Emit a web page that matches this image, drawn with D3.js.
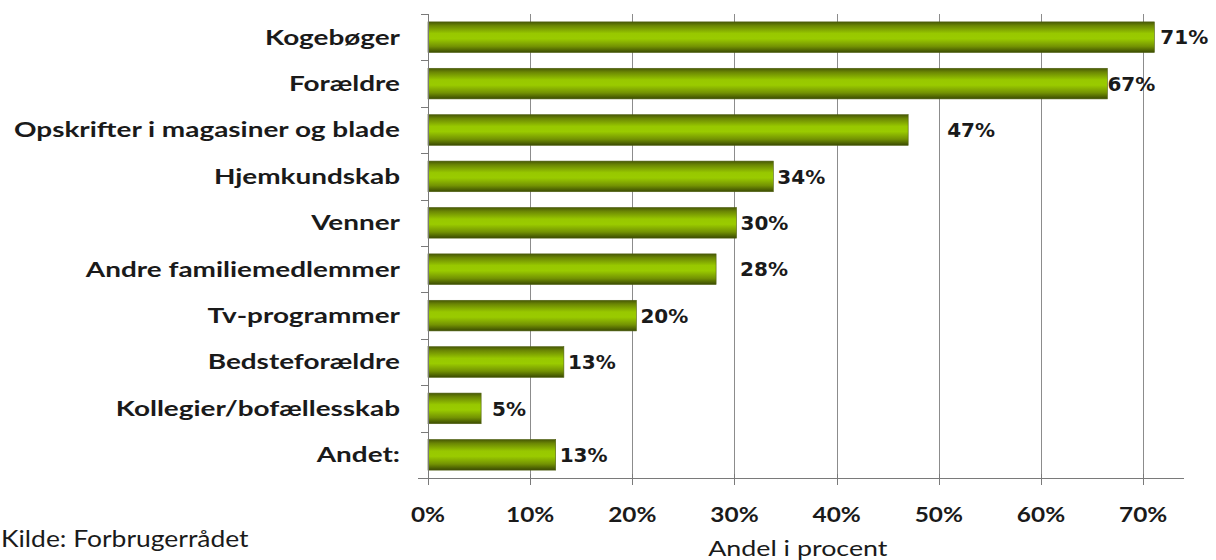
<!DOCTYPE html>
<html>
<head>
<meta charset="utf-8">
<script src="https://cdn.jsdelivr.net/npm/d3@7"></script>
<style>
  body { margin: 0; background: #fff; }
  svg { display: block; }
</style>
</head>
<body>
<div id="chart"></div>
<script>
// data
const categories = ["Kogebøger", "Forældre", "Opskrifter i magasiner og blade", "Hjemkundskab", "Venner",
  "Andre familiemedlemmer", "Tv-programmer", "Bedsteforældre", "Kollegier/bofællesskab", "Andet:"];
const shares = [0.711, 0.665, 0.470, 0.338, 0.302, 0.282, 0.204, 0.133, 0.052, 0.125];
const shareLabels = ["71%", "67%", "47%", "34%", "30%", "28%", "20%", "13%", "5%", "13%"];
const tickValues = [0, 0.1, 0.2, 0.3, 0.4, 0.5, 0.6, 0.7];
const tickLabels = ["0%", "10%", "20%", "30%", "40%", "50%", "60%", "70%"];

// excel put the value labels at uneven distances from the bar ends
const labelGap = [6, 0, 39, 4, 4, 24, 4, 4, 11, 4];

const W = 1216, H = 560;
const margin = { top: 14, right: 32, bottom: 82, left: 428 },
  width = W - margin.left - margin.right,
  height = H - margin.top - margin.bottom;

const calibri = "Lato, 'Open Sans', sans-serif";
const stretch = 1.22;

const svg = d3.select("#chart")
  .append("svg")
  .attr("width", W)
  .attr("height", H);

const defs = svg.append("defs");
const grad = defs.append("linearGradient")
  .attr("id", "barGrad")
  .attr("x1", 0).attr("y1", 0).attr("x2", 0).attr("y2", 1);
[[0, "#475805"], [0.12, "#6a8504"], [0.38, "#98c800"], [0.55, "#9acb00"], [0.8, "#739203"], [1, "#3a4a02"]]
  .forEach(function (s) {
    grad.append("stop").attr("offset", s[0]).attr("stop-color", s[1]);
  });

const g = svg.append("g")
  .attr("transform", `translate(${margin.left},${margin.top})`);

const x = d3.scaleLinear()
  .domain([0, 0.74])
  .range([0, width]);

const y = d3.scaleBand()
  .domain(categories)
  .range([0, height])
  .paddingInner(0.34)
  .paddingOuter(0.17);

// vertical gridlines
g.append("g")
  .selectAll("line")
  .data(tickValues.slice(1))
  .join("line")
  .attr("x1", d => Math.round(x(d)) + 0.5)
  .attr("x2", d => Math.round(x(d)) + 0.5)
  .attr("y1", 0)
  .attr("y2", height)
  .attr("stroke", "#8c8c8c")
  .attr("stroke-width", 1);

// bars
g.append("g")
  .selectAll("rect")
  .data(categories)
  .join("rect")
  .attr("x", 0)
  .attr("y", d => y(d))
  .attr("width", (d, i) => x(shares[i]))
  .attr("height", y.bandwidth())
  .attr("fill", "url(#barGrad)")
  .attr("stroke", "#4f5f10")
  .attr("stroke-width", 0.6);

// y axis: line + ticks at band boundaries
const yAxis = g.append("g");
yAxis.append("line")
  .attr("x1", 0.5).attr("x2", 0.5)
  .attr("y1", 0).attr("y2", height)
  .attr("stroke", "#7a7a7a");
yAxis.selectAll("line.tick")
  .data(d3.range(categories.length + 1))
  .join("line")
  .attr("class", "tick")
  .attr("x1", -7).attr("x2", 0)
  .attr("y1", i => Math.round(i * height / categories.length) + 0.5)
  .attr("y2", i => Math.round(i * height / categories.length) + 0.5)
  .attr("stroke", "#7a7a7a");

// category labels
g.append("g")
  .selectAll("text")
  .data(categories)
  .join("text")
  .attr("transform", d => `translate(-28,${y(d) + y.bandwidth() / 2}) scale(1.33,1)`)
  .attr("text-anchor", "end")
  .attr("dy", "0.35em")
  .style("font-family", calibri)
  .style("font-weight", 700)
  .style("font-size", "21px")
  .style("fill", "#1a1a1a")
  .text(d => d);

// x axis
const xAxis = g.append("g").attr("transform", `translate(0,${height})`);
xAxis.append("line")
  .attr("x1", -10).attr("x2", width)
  .attr("y1", 0.5).attr("y2", 0.5)
  .attr("stroke", "#7a7a7a");
xAxis.selectAll("line.tick")
  .data(tickValues)
  .join("line")
  .attr("class", "tick")
  .attr("x1", d => Math.round(x(d)) + 0.5)
  .attr("x2", d => Math.round(x(d)) + 0.5)
  .attr("y1", -4).attr("y2", 7)
  .attr("stroke", "#7a7a7a");
xAxis.selectAll("text")
  .data(tickValues)
  .join("text")
  .attr("transform", d => `translate(${x(d)},44) scale(${stretch},1)`)
  .attr("text-anchor", "middle")
  .style("font-family", calibri)
  .style("font-weight", 700)
  .style("font-size", "20px")
  .style("fill", "#1a1a1a")
  .text((d, i) => tickLabels[i]);

// value labels
g.append("g")
  .selectAll("text")
  .data(categories)
  .join("text")
  .attr("x", (d, i) => x(shares[i]) + labelGap[i])
  .attr("y", d => y(d) + y.bandwidth() / 2)
  .attr("dy", "0.36em")
  .style("font-family", "'DejaVu Sans', Verdana, sans-serif")
  .style("font-weight", 700)
  .style("font-size", "20px")
  .style("fill", "#1a1a1a")
  .text((d, i) => shareLabels[i]);

// axis title
g.append("text")
  .attr("transform", `translate(${x(0.362)},${height + 78}) scale(${stretch},1)`)
  .attr("text-anchor", "middle")
  .style("font-family", calibri)
  .style("font-size", "22px")
  .style("fill", "#1a1a1a")
  .text("Andel i procent");

// source
svg.append("text")
  .attr("transform", `translate(1,${H - 13}) scale(1.15,1)`)
  .style("font-family", calibri)
  .style("font-size", "23px")
  .style("fill", "#1a1a1a")
  .text("Kilde: Forbrugerrådet");
</script>
</body>
</html>
